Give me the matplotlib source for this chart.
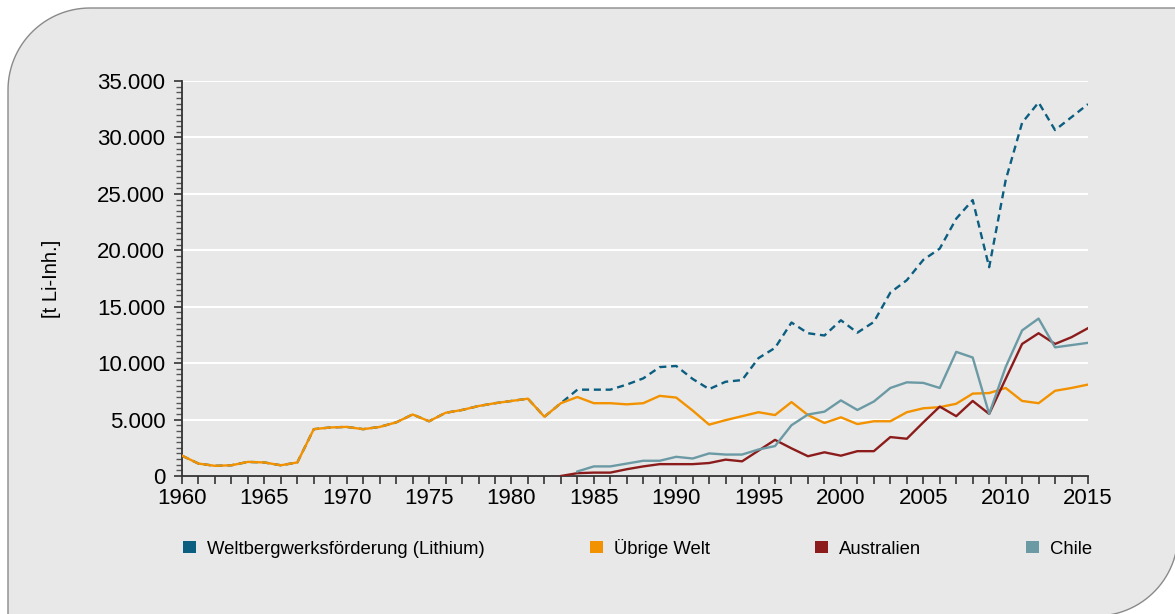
import numpy as np
import matplotlib
matplotlib.use("Agg")
import matplotlib.pyplot as plt
from matplotlib.path import Path
from matplotlib.patches import PathPatch, Patch
from matplotlib.ticker import FuncFormatter, MultipleLocator

plt.rcParams['font.family'] = ['Liberation Sans', 'DejaVu Sans']

# data (t Li-Inh.)
years = list(range(1960, 2016))
years_au = list(range(1983, 2016))
years_cl = list(range(1984, 2016))

uebrige = [1800, 1100, 900, 950, 1250, 1200, 950, 1200, 4150, 4300,
           4350, 4150, 4350, 4750, 5450, 4850, 5600, 5850, 6200, 6450,
           6650, 6850, 5250, 6450, 7000, 6450, 6450, 6350, 6450, 7100,
           6950, 5800, 4550, 4950, 5300, 5650, 5400, 6550, 5400, 4700,
           5200, 4600, 4850, 4850, 5650, 6000, 6100, 6400, 7300, 7350,
           7800, 6650, 6450, 7550, 7800, 8100]

welt = [1800, 1100, 900, 950, 1250, 1200, 950, 1200, 4150, 4300,
        4350, 4150, 4350, 4750, 5450, 4850, 5600, 5850, 6200, 6450,
        6650, 6850, 5250, 6450, 7650, 7650, 7650, 8100, 8650, 9650,
        9750, 8600, 7700, 8350, 8500, 10450, 11350, 13600, 12650, 12450,
        13800, 12700, 13650, 16250, 17350, 19150, 20150, 22800, 24450, 18500,
        26200, 31300, 33100, 30650, 31800, 32950]

australien = [0, 250, 300, 300, 600, 850, 1050, 1050, 1050, 1150,
              1450, 1300, 2250, 3200, 2450, 1750, 2100, 1800, 2200, 2200,
              3450, 3300, 4750, 6150, 5300, 6650, 5500, 8600, 11700, 12650,
              11700, 12300, 13100]

chile = [400, 850, 850, 1100, 1350, 1350, 1700, 1550, 2000, 1900,
         1900, 2350, 2650, 4500, 5450, 5700, 6700, 5850, 6600, 7800,
         8300, 8250, 7800, 11000, 10500, 5500, 9650, 12900, 13950, 11400,
         11600, 11800]

labels = ["Weltbergwerksförderung (Lithium)", "Übrige Welt", "Australien", "Chile"]
c_welt = "#0b5e80"
c_ueb = "#f39200"
c_au = "#8c1c1c"
c_cl = "#6b9aa5"

W, H = 1175, 614
fig = plt.figure(figsize=(W / 100, H / 100), dpi=100)
fig.patch.set_facecolor("white")

# rounded panel: top-left and bottom-right corners rounded
def arc(cx, cy, r, a0, a1):
    t = np.linspace(np.radians(a0), np.radians(a1), 30)
    return list(zip(cx + r * np.cos(t), cy + r * np.sin(t)))

r = 82
x0, y0, x1, y1 = 8, 8, 1178, 616  # pixel coords, y downward
pts = []
pts += arc(x0 + r, y0 + r, r, 180, 270)
pts += [(x1 + 20, y0)]
pts += arc(x1 - r, y1 - r, r, 0, 90)
pts += [(x0, y1 + 20)]
pts.append(pts[0])
verts = [(px / W, 1 - py / H) for px, py in pts]
codes = [Path.MOVETO] + [Path.LINETO] * (len(verts) - 2) + [Path.CLOSEPOLY]
panel = PathPatch(Path(verts, codes), facecolor="#e8e8e8", edgecolor="#8a8a8a",
                  lw=1.0, transform=fig.transFigure, zorder=-5)
fig.patches.append(panel)

ax = fig.add_axes([182 / W, 1 - 476 / H, (1088 - 182) / W, (476 - 81) / H])
ax.set_facecolor("none")
ax.set_zorder(2)

ax.plot(years, welt, color=c_welt, lw=1.7, dashes=(3, 2), zorder=3)
ax.plot(years, uebrige, color=c_ueb, lw=1.7, zorder=4)
ax.plot(years_au, australien, color=c_au, lw=1.7, zorder=5)
ax.plot(years_cl, chile, color=c_cl, lw=1.7, zorder=6)

ax.set_xlim(1960, 2015)
ax.set_ylim(0, 35000)
ax.xaxis.set_major_locator(MultipleLocator(5))
ax.xaxis.set_minor_locator(MultipleLocator(1))
ax.yaxis.set_major_locator(MultipleLocator(5000))
ax.yaxis.set_minor_locator(MultipleLocator(500))
ax.yaxis.set_major_formatter(FuncFormatter(lambda v, p: f"{int(v):,}".replace(",", ".")))

ax.grid(axis="y", which="major", color="white", lw=1.5, zorder=1)
ax.set_axisbelow(True)
for s in ["top", "right"]:
    ax.spines[s].set_visible(False)
for s in ["left", "bottom"]:
    ax.spines[s].set_color("#333333")
    ax.spines[s].set_linewidth(1.3)

ax.tick_params(axis="both", which="major", direction="out", length=6, width=1.2,
               color="#333333", labelsize=16, labelcolor="black")
ax.tick_params(axis="x", which="minor", direction="out", length=6, width=1.2, color="#333333")
ax.tick_params(axis="y", which="minor", direction="out", length=4, width=1.0, color="#555555")
ax.tick_params(axis="y", which="major", pad=6)
ax.tick_params(axis="x", which="major", pad=3)

ax.set_ylabel("[t Li-Inh.]", fontsize=14.5, labelpad=26)

handles = [Patch(facecolor=c, edgecolor="none") for c in [c_welt, c_ueb, c_au, c_cl]]
fig.legend(handles, labels, loc="center left", bbox_to_anchor=(176 / W, 1 - 548 / H),
           ncol=4, frameon=False, fontsize=13.3, handlelength=0.68, handleheight=0.68,
           handletextpad=0.6, columnspacing=5.7, borderaxespad=0)

fig.savefig("out.png", dpi=100, facecolor=fig.get_facecolor())
